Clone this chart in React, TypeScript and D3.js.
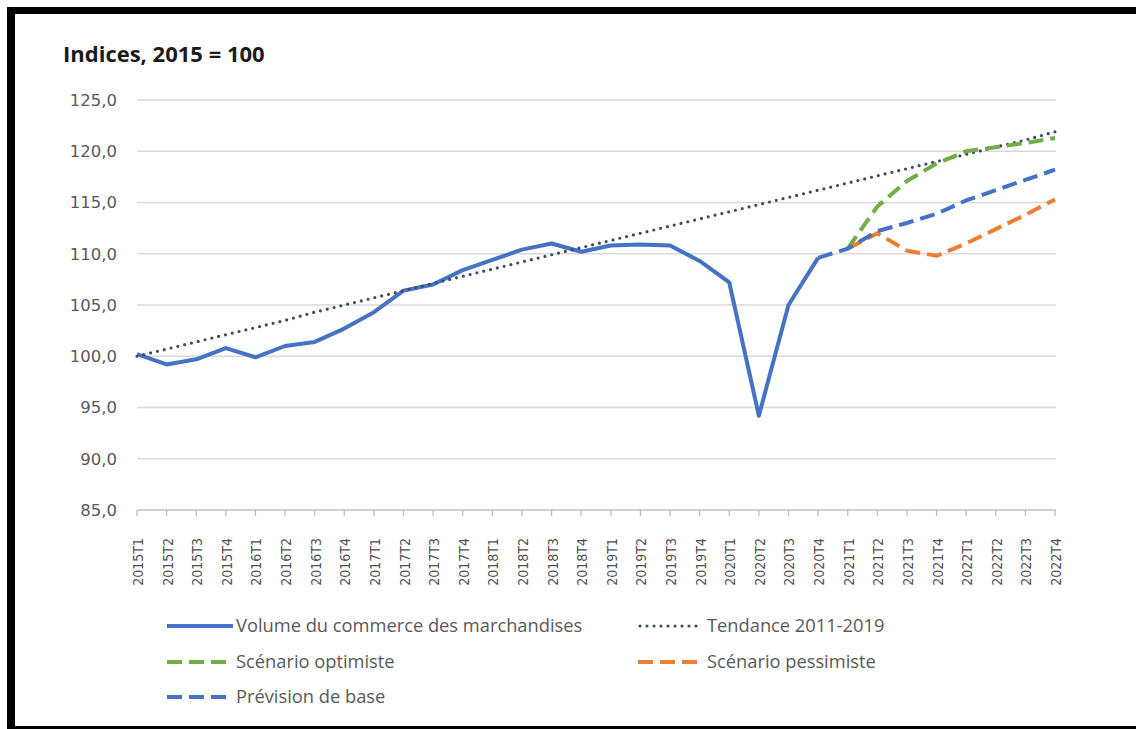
import React, { useEffect, useRef } from "react";
import * as d3 from "d3";

const categories = [
  "2015T1","2015T2","2015T3","2015T4",
  "2016T1","2016T2","2016T3","2016T4",
  "2017T1","2017T2","2017T3","2017T4",
  "2018T1","2018T2","2018T3","2018T4",
  "2019T1","2019T2","2019T3","2019T4",
  "2020T1","2020T2","2020T3","2020T4",
  "2021T1","2021T2","2021T3","2021T4",
  "2022T1","2022T2","2022T3","2022T4",
];

const volume: number[] = [
  100.2, 99.2, 99.7, 100.8, 99.9, 101.0, 101.4, 102.7,
  104.3, 106.4, 107.0, 108.4, 109.4, 110.4, 111.0, 110.2,
  110.8, 110.9, 110.8, 109.3, 107.2, 94.2, 105.0, 109.6,
];

const tendance = [
  100.0, 100.7, 101.4, 102.1, 102.8, 103.5, 104.3, 105.0,
  105.7, 106.4, 107.1, 107.8, 108.5, 109.2, 109.9, 110.6,
  111.3, 112.0, 112.7, 113.4, 114.1, 114.8, 115.5, 116.2,
  116.9, 117.6, 118.3, 119.0, 119.7, 120.4, 121.1, 121.9,
];

// forecasts start at 2021T1 (index 24); base starts from 2020T4 (index 23)
const optimiste = [110.5, 114.6, 117.1, 118.8, 120.0, 120.4, 120.8, 121.3];
const pessimiste = [110.5, 112.0, 110.3, 109.8, 111.0, 112.4, 113.8, 115.3];
const baseStartIndex = 23;
const base = [109.6, 110.5, 112.2, 113.0, 113.9, 115.2, 116.2, 117.2, 118.2];

const yTicks = [85, 90, 95, 100, 105, 110, 115, 120, 125];

const BLUE = "#4472C4";
const GREEN = "#70AD47";
const ORANGE = "#ED7D31";
const DOT = "#3F4B63";
const TEXT = "#595959";
const FONT = "'Open Sans', 'Noto Sans', sans-serif";

export default function App() {
  const ref = useRef<SVGSVGElement>(null);

  useEffect(() => {
    const svg = d3.select(ref.current);
    svg.selectAll("*").remove();

    const x = d3.scalePoint<string>().domain(categories).range([137, 1055]);
    const y = d3.scaleLinear().domain([85, 125]).range([510, 100]);

    svg.append("rect").attr("width", 1136).attr("height", 729).attr("fill", "#fff");

    // frame
    svg.append("rect").attr("x", 7).attr("y", 7).attr("width", 1129).attr("height", 7).attr("fill", "#000");
    svg.append("rect").attr("x", 7).attr("y", 7).attr("width", 8).attr("height", 722).attr("fill", "#000");
    svg.append("rect").attr("x", 7).attr("y", 726).attr("width", 1129).attr("height", 3).attr("fill", "#000");

    // title
    svg.append("text").attr("x", 63).attr("y", 62)
      .attr("font-family", FONT).attr("font-weight", 700).attr("font-size", 22)
      .attr("fill", "#1a1a1a").text("Indices, 2015 = 100");

    // gridlines
    const g = svg.append("g");
    yTicks.forEach((t) => {
      if (t !== 85) {
        g.append("line").attr("x1", 137).attr("x2", 1056)
          .attr("y1", y(t)).attr("y2", y(t))
          .attr("stroke", "#d9d9d9").attr("stroke-width", 1.3);
      }
      g.append("text").attr("x", 117).attr("y", y(t)).attr("dy", "0.36em")
        .attr("text-anchor", "end").attr("font-family", "'DejaVu Sans', sans-serif").attr("font-size", 16.5)
        .attr("fill", TEXT).text(d3.format(".1f")(t).replace(".", ","));
    });

    // x axis
    g.append("line").attr("x1", 137).attr("x2", 1056).attr("y1", y(85)).attr("y2", y(85))
      .attr("stroke", "#bfbfbf").attr("stroke-width", 1.3);
    categories.forEach((c) => {
      const xp = x(c)!;
      g.append("line").attr("x1", xp).attr("x2", xp).attr("y1", y(85)).attr("y2", y(85) + 6)
        .attr("stroke", "#bfbfbf").attr("stroke-width", 1.3);
      g.append("text")
        .attr("transform", `translate(${xp + 6},${538}) rotate(-90)`)
        .attr("text-anchor", "end")
        .attr("font-family", "'Liberation Sans Narrow', 'DejaVu Sans Condensed', 'Liberation Sans', sans-serif")
        .attr("font-size", 14)
        .attr("fill", "#505050").text(c);
    });

    const line = d3.line<[number, number]>().x((d) => d[0]).y((d) => d[1]);

    const ser = (startIdx: number, vals: number[]) =>
      vals.map((v, i) => [x(categories[startIdx + i])!, y(v)] as [number, number]);

    // volume
    svg.append("path").attr("d", line(ser(0, volume))!).attr("fill", "none")
      .attr("stroke", BLUE).attr("stroke-width", 4).attr("stroke-linejoin", "round");
    // tendance
    svg.append("path").attr("d", line(ser(0, tendance))!).attr("fill", "none")
      .attr("stroke", DOT).attr("stroke-width", 3.2).attr("stroke-linecap", "round")
      .attr("stroke-dasharray", "0 7");
    // optimiste
    svg.append("path").attr("d", line(ser(24, optimiste))!).attr("fill", "none")
      .attr("stroke", GREEN).attr("stroke-width", 4).attr("stroke-dasharray", "15 7");
    // pessimiste
    svg.append("path").attr("d", line(ser(24, pessimiste))!).attr("fill", "none")
      .attr("stroke", ORANGE).attr("stroke-width", 4).attr("stroke-dasharray", "15 7");
    // base
    svg.append("path").attr("d", line(ser(baseStartIndex, base))!).attr("fill", "none")
      .attr("stroke", BLUE).attr("stroke-width", 4).attr("stroke-dasharray", "15 7");

    // legend
    const legend = [
      { label: "Volume du commerce des marchandises", color: BLUE, dash: null, x: 167, y: 626 },
      { label: "Tendance 2011-2019", color: DOT, dash: "0 7", x: 638, y: 626 },
      { label: "Scénario optimiste", color: GREEN, dash: "15 7", x: 167, y: 662 },
      { label: "Scénario pessimiste", color: ORANGE, dash: "15 7", x: 638, y: 662 },
      { label: "Prévision de base", color: BLUE, dash: "15 7", x: 167, y: 697 },
    ];
    legend.forEach((l) => {
      const dotted = l.dash === "0 7";
      const ln = svg.append("line").attr("x1", l.x + (dotted ? 2 : 0)).attr("x2", l.x + (dotted ? 63 : 66))
        .attr("y1", l.y).attr("y2", l.y).attr("stroke", l.color)
        .attr("stroke-width", dotted ? 3.2 : 4);
      if (l.dash) ln.attr("stroke-dasharray", l.dash);
      if (dotted) ln.attr("stroke-linecap", "round");
      svg.append("text").attr("x", l.x + 69).attr("y", l.y).attr("dy", "0.35em")
        .attr("font-family", FONT).attr("font-size", 18.3).attr("fill", TEXT).text(l.label);
    });
  }, []);

  return (
    <svg ref={ref} width={1136} height={729}
      style={{ position: "absolute", left: 0, top: 0, display: "block" }} />
  );
}
